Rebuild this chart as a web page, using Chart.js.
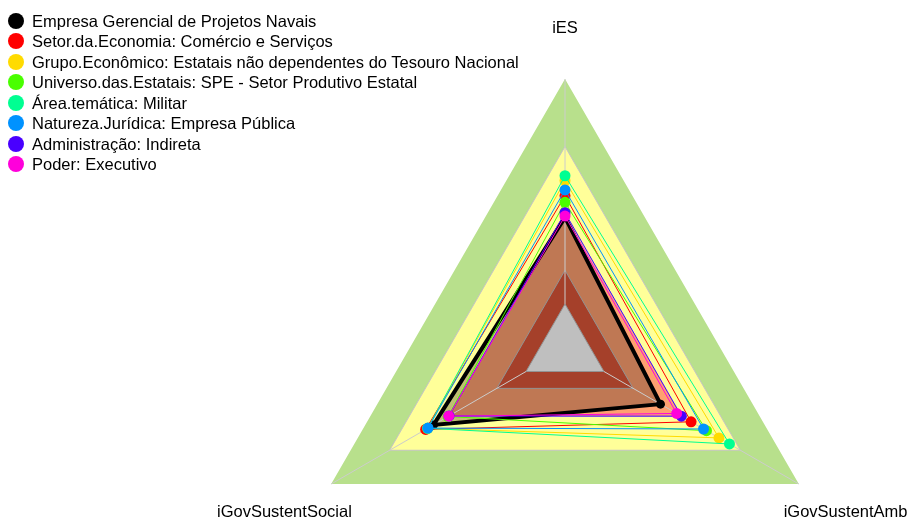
<!DOCTYPE html>
<html>
<head>
<meta charset="utf-8">
<script src="https://cdn.jsdelivr.net/npm/chart.js@4.4.1/dist/chart.umd.min.js"></script>
<style>
  html, body { margin: 0; padding: 0; width: 907px; height: 521px; overflow: hidden; background: #fff; }
  #wrap { position: relative; width: 907px; height: 521px; overflow: hidden; }
  #c { position: absolute; left: 0; top: 0; }
  #legend { position: absolute; left: 0; top: 11px; font: 16.5px "Liberation Sans", Arial, sans-serif; color: #000; }
  .item { position: relative; height: 20.43px; line-height: 20px; padding-left: 32px; white-space: nowrap; }
  .dot { position: absolute; left: 8px; top: 2px; width: 16px; height: 16px; border-radius: 50%; }
</style>
</head>
<body>
<div id="wrap">
  <canvas id="c" width="907" height="700"></canvas>
  <div id="legend"></div>
</div>
<script>
// ---- data ----
const axisLabels = ['iES', 'iGovSustentAmb', 'iGovSustentSocial'];
const seriesNames = [
  'Empresa Gerencial de Projetos Navais',
  'Setor.da.Economia: Comércio e Serviços',
  'Grupo.Econômico: Estatais não dependentes do Tesouro Nacional',
  'Universo.das.Estatais: SPE - Setor Produtivo Estatal',
  'Área.temática: Militar',
  'Natureza.Jurídica: Empresa Pública',
  'Administração: Indireta',
  'Poder: Executivo'
];
const empresaValues   = [0.385, 0.290, 0.475];
const setorValues     = [0.481, 0.447, 0.515];
const grupoValues     = [0.548, 0.590, 0.505];
const universoValues  = [0.452, 0.526, 0.400];
const militarValues   = [0.570, 0.644, 0.505];
const naturezaValues  = [0.507, 0.511, 0.503];
const adminValues     = [0.406, 0.397, 0.395];
const poderValues     = [0.391, 0.373, 0.397];
const seriesValues = [empresaValues, setorValues, grupoValues, universoValues,
                      militarValues, naturezaValues, adminValues, poderValues];
const bandLevels = [1.0, 0.7, 0.4, 0.15, 0];
const scaleMin = -0.2, scaleMax = 1.0;

// ---- styles ----
const seriesColors = ['#000000', '#FF0000', '#FFDB00', '#49FF00', '#00FF92', '#0092FF', '#4900FF', '#FF00DB'];
const bandColors = ['#B8E08C', '#FFFF99', '#FFA070', '#DC5638', '#FFFFFF'];

// legend (HTML text)
const leg = document.getElementById('legend');
seriesNames.forEach((n, i) => {
  const d = document.createElement('div');
  d.className = 'item';
  d.innerHTML = '<span class="dot" style="background:' + seriesColors[i] + '"></span>' + n;
  leg.appendChild(d);
});

const datasets = [];
bandLevels.forEach((lv, i) => {
  datasets.push({
    label: 'band' + i,
    data: axisLabels.map(() => lv),
    backgroundColor: bandColors[i],
    borderColor: i === 0 ? 'rgba(0,0,0,0)' : '#C4C4C4',
    borderWidth: 1,
    pointRadius: 0,
    fill: 'start',
    order: 20 - i
  });
});
seriesValues.forEach((vals, i) => {
  datasets.push({
    label: seriesNames[i],
    data: vals,
    borderColor: seriesColors[i],
    backgroundColor: i === 0 ? 'rgba(0,0,0,0.25)' : 'rgba(0,0,0,0)',
    fill: i === 0 ? 'start' : false,
    borderWidth: i === 0 ? 4 : 1,
    pointRadius: i === 0 ? 4.5 : 5.5,
    pointBorderWidth: 0,
    pointBackgroundColor: seriesColors[i],
    order: 8 - i
  });
});

const angleLinePlugin = {
  id: 'angleLines',
  beforeDatasetDraw(chart, args) {
    if (args.meta.order !== 8) return;
    const s = chart.scales.r, ctx = chart.ctx;
    ctx.save();
    ctx.strokeStyle = '#CCCCCC';
    ctx.lineWidth = 1;
    for (let i = 0; i < axisLabels.length; i++) {
      const a = s.getPointPositionForValue(i, 0);
      const b = s.getPointPositionForValue(i, scaleMax);
      ctx.beginPath(); ctx.moveTo(a.x, a.y); ctx.lineTo(b.x, b.y); ctx.stroke();
    }
    ctx.restore();
  }
};
const labelPlugin = {
  id: 'axisLabelText',
  afterDraw(chart) {
    const s = chart.scales.r, ctx = chart.ctx;
    ctx.save();
    ctx.font = '16.5px "Liberation Sans", Arial, sans-serif';
    ctx.fillStyle = '#000';
    ctx.textAlign = 'center';
    ctx.textBaseline = 'middle';
    for (let i = 0; i < axisLabels.length; i++) {
      const p = s.getPointPosition(i, s.drawingArea * 1.2);
      ctx.fillText(axisLabels[i], p.x, p.y + (i === 0 ? 3 : 1));
    }
    ctx.restore();
  }
};

new Chart(document.getElementById('c'), {
  type: 'radar',
  data: { labels: axisLabels, datasets },
  options: {
    responsive: false,
    animation: false,
    events: [],
    layout: { padding: { left: 295, right: 72, top: 79, bottom: 81 } },
    elements: { line: { tension: 0, borderJoinStyle: 'miter' } },
    plugins: { legend: { display: false }, title: { display: false }, tooltip: { enabled: false } },
    scales: {
      r: {
        min: scaleMin, max: scaleMax,
        beginAtZero: false,
        ticks: { display: false },
        pointLabels: { display: false },
        grid: { display: false },
        angleLines: { display: false }
      }
    }
  },
  plugins: [angleLinePlugin, labelPlugin]
});
</script>
</body>
</html>
